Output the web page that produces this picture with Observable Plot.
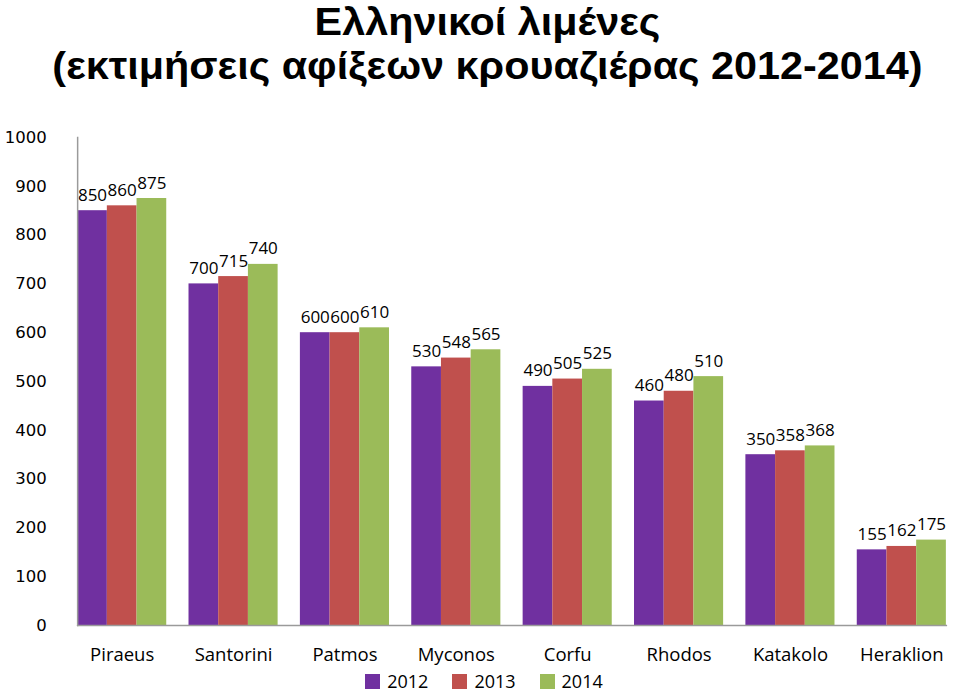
<!DOCTYPE html>
<html><head><meta charset="utf-8">
<script src="https://cdn.jsdelivr.net/npm/d3@7"></script>
<script src="https://cdn.jsdelivr.net/npm/@observablehq/plot@0.6"></script>
<style>
body{margin:0;background:#fff;width:960px;height:693px;overflow:hidden}
#title{height:100px;text-align:center;margin-left:14px}
#title span{display:inline-block;font-family:"Liberation Sans",Arial,sans-serif;font-weight:bold;font-size:39px;line-height:44px;color:#000;transform:scaleX(1.06);transform-origin:center top;white-space:nowrap}
#legend{display:flex;justify-content:center;gap:24px;font-family:"Open Sans",sans-serif;font-size:18px;height:23px;line-height:23px;margin-left:8px}
#legend span.sw{display:inline-block;width:15px;height:15px;margin-right:7px;vertical-align:-1px}
</style></head>
<body>
<div id="title"><span>Ελληνικοί λιμένες<br>(εκτιμήσεις αφίξεων κρουαζιέρας 2012-2014)</span></div>
<div id="chart"></div>
<div id="legend"></div>
<script>
const ports = ["Piraeus","Santorini","Patmos","Myconos","Corfu","Rhodos","Katakolo","Heraklion"];
const years = ["2012","2013","2014"];
const v2012 = [850,700,600,530,490,460,350,155];
const v2013 = [860,715,600,548,505,480,358,162];
const v2014 = [875,740,610,565,525,510,368,175];
const colors = ["#7030A0","#C0504D","#9BBB59"];
const yTicks = [0,100,200,300,400,500,600,700,800,900,1000];

const series = [v2012, v2013, v2014];
const data = [];
ports.forEach((p,i)=>years.forEach((y,j)=>data.push({port:p, year:y, value:series[j][i]})));

const chart = Plot.plot({
  width:960, height:570,
  marginLeft:66, marginRight:3, marginTop:37, marginBottom:45,
  style:{fontFamily:"Open Sans, sans-serif", fontSize:"16px", color:"#000", background:"#fff"},
  fx:{domain:ports, paddingInner:0.2, paddingOuter:0.1, round:false, label:null},
  x:{domain:years, padding:0, round:false, axis:null},
  y:{domain:[0,1000], label:null},
  color:{domain:years, range:colors},
  marks:[
    Plot.barY(data,{fx:"port", x:"year", y:"value", fill:"year"}),
    Plot.text(data,{fx:"port", x:"year", y:"value", text:d=>String(d.value), dy:-10, lineAnchor:"bottom", fontSize:17, fill:"#000"}),
    Plot.axisY(yTicks,{tickSize:0, tickPadding:0, dx:-31, tickFormat:d=>String(d), fontFamily:"DejaVu Sans, sans-serif", fontSize:16.5, label:null}),
    Plot.axisFx({anchor:"bottom", tickSize:0, tickPadding:0, dy:22, fontSize:18.5, label:null}),
    Plot.frame({anchor:"bottom", stroke:"#9a9a9a", strokeWidth:1.5, facet:"super"}),
    Plot.frame({anchor:"left", stroke:"#9a9a9a", strokeWidth:1.5, facet:"super"})
  ]
});
document.getElementById("chart").appendChild(chart);

const lg = document.getElementById("legend");
years.forEach((y,i)=>{
  const item = document.createElement("div");
  item.innerHTML = `<span class="sw" style="background:${colors[i]}"></span>${y}`;
  lg.appendChild(item);
});
</script>
</body></html>
